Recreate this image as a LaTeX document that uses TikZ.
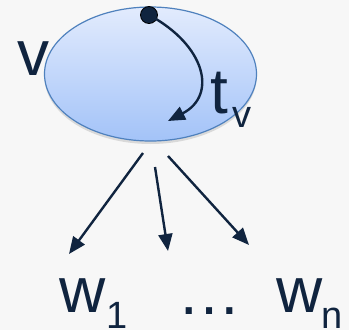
\documentclass[tikz,border=0pt]{standalone}
\usepackage{fontspec}
\setmainfont{Liberation Sans}
\usetikzlibrary{shapes.geometric,arrows.meta,shadows}
\definecolor{ink}{HTML}{10243F}
\definecolor{ellborder}{HTML}{4F81BD}
\definecolor{elltop}{HTML}{E2EBFD}
\definecolor{ellbot}{HTML}{A3C3F8}
\definecolor{bg}{HTML}{F7F7F7}
\tikzset{
  setnode/.style={ellipse, draw=ellborder, line width=1.2pt, top color=elltop, bottom color=ellbot,
    minimum width=212pt, minimum height=134pt, inner sep=0pt,
    drop shadow={shadow xshift=0pt, shadow yshift=-3pt, opacity=0.25}},
  bigtext/.style={inner sep=0pt, anchor=base, text=ink, font=\fontsize{64}{64}\selectfont},
  subtext/.style={inner sep=0pt, anchor=base, text=ink, font=\fontsize{38}{38}\selectfont},
  arr/.style={draw=ink, line width=2.4pt, -{Triangle[length=17pt,width=14pt]}},
  dotnode/.style={circle, fill=ink, draw=black, line width=0.8pt, minimum size=17pt, inner sep=0pt}
}
\begin{document}
\begin{tikzpicture}[x=1pt,y=-1pt]
\fill[bg] (0,0) rectangle (349,330);
\useasboundingbox (0,0) rectangle (349,330);
\node[setnode] (v) at (150.5,74) {};
\node[bigtext] (vlab) at (33,75) {v};
\node[dotnode] (d) at (149,15) {};
\coordinate (ttip) at (168,121);
\draw[arr] (d.center) .. controls (205,45) and (218,95) .. (ttip);
\node[bigtext, anchor=base west] (t) at (210,113) {t};
\node[subtext, anchor=base west] (tsub) at (232,127) {v};
\coordinate (s1) at (143,153);
\coordinate (e1) at (69,254);
\coordinate (s2) at (155,167);
\coordinate (e2) at (168,251);
\coordinate (s3) at (168,156);
\coordinate (e3) at (249,245);
\draw[arr] (s1) -- (e1);
\draw[arr] (s2) -- (e2);
\draw[arr] (s3) -- (e3);
\node[bigtext, anchor=base west] (w1) at (59,312) {w};
\node[subtext, anchor=base west] (w1s) at (106,328) {1};
\node[bigtext, anchor=base] (dots) at (209,314) {…};
\node[bigtext, anchor=base west] (wn) at (276,312) {w};
\node[subtext, anchor=base west] (wns) at (321,328) {n};
\end{tikzpicture}
\end{document}
